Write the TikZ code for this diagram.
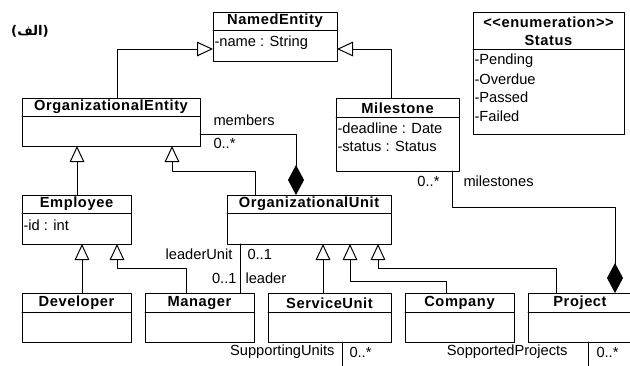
\documentclass[tikz,border=0pt]{standalone}
\usepackage{fontspec}
\setmainfont{Liberation Sans}
\newfontface\clsbold{Liberation Sans Bold}[LetterSpace=4]
\newfontfamily\arabicfont[Script=Arabic]{DejaVu Sans}
\TeXXeTstate=1
\usetikzlibrary{arrows.meta}

\tikzset{
  cls/.style={draw, anchor=north west, inner sep=0pt, outer sep=0pt},
  boxsize/.style 2 args={minimum width=#1*0.75pt, minimum height=#2*0.75pt},
  ttl/.style={font=\clsbold\fontsize{11}{13}\selectfont, inner sep=0pt},
  att/.style={anchor=west, inner sep=0pt, xshift=0.75pt},
  txt/.style={inner sep=0pt},
  gen/.style={-{Triangle[open,length=12pt,width=11pt]}},
  comp/.style={-{Diamond[length=22.5pt,width=12pt]}}
}

\begin{document}
\begin{tikzpicture}[line cap=round,line join=round,x=0.75pt,y=-0.75pt,line width=0.75pt,font=\fontsize{11}{13}\selectfont]
\useasboundingbox (0,0) rectangle (630,365);
\clip (0,0) rectangle (630,365);
\fill[white] (0,0) rectangle (630,365);
\node[txt] (alef) at (30,31) {\arabicfont\fontsize{10}{12}\selectfont\bfseries\beginR(الف)\endR};
% top row
\node[cls, boxsize={124}{49}] (ne) at (213,12) {};
\draw (ne.west |- 0,30) -- (ne.east |- 0,30);
\node[ttl] (ne-t) at (ne.north |- 0,21) {NamedEntity};
\node[att] at (ne.west |- 0,43) {-name : String};
\node[cls, boxsize={151}{122}] (st) at (473,12) {};
\draw (st.west |- 0,49) -- (st.east |- 0,49);
\node[ttl] (st-s) at (st.north |- 0,22) {<{}<enumeration>{}>};
\node[ttl] (st-t) at (st.north |- 0,40) {Status};
\node[att] at (st.west |- 0,61) {-Pending};
\node[att] at (st.west |- 0,79) {-Overdue};
\node[att] at (st.west |- 0,97) {-Passed};
\node[att] at (st.west |- 0,116) {-Failed};
% second row
\node[cls, boxsize={178}{48}] (oe) at (22,98) {};
\draw (oe.west |- 0,116) -- (oe.east |- 0,116);
\node[ttl] (oe-t) at (oe.north |- 0,107) {OrganizationalEntity};
\node[cls, boxsize={123}{73}] (ms) at (336,98) {};
\draw (ms.west |- 0,117) -- (ms.east |- 0,117);
\node[ttl] (ms-t) at (ms.north |- 0,108) {Milestone};
\node[att] at (ms.west |- 0,128) {-deadline : Date};
\node[att] at (ms.west |- 0,146) {-status : Status};
% third row
\node[cls, boxsize={109}{49}] (em) at (22,195) {};
\draw (em.west |- 0,213) -- (em.east |- 0,213);
\node[ttl] (em-t) at (em.north |- 0,204) {Employee};
\node[att] at (em.west |- 0,225) {-id : int};
\node[cls, boxsize={164}{49}] (ou) at (227,195) {};
\draw (ou.west |- 0,213) -- (ou.east |- 0,213);
\node[ttl] (ou-t) at (ou.north |- 0,204) {OrganizationalUnit};
% bottom row
\node[cls, boxsize={109}{49}] (dv) at (22,293) {};
\draw (dv.west |- 0,312) -- (dv.east |- 0,312);
\node[ttl] (dv-t) at (dv.north |- 0,303) {Developer};
\node[cls, boxsize={109}{49}] (mg) at (145,293) {};
\draw (mg.west |- 0,312) -- (mg.east |- 0,312);
\node[ttl] (mg-t) at (mg.north |- 0,303) {Manager};
\node[cls, boxsize={123}{49}] (su) at (268,293) {};
\draw (su.west |- 0,312) -- (su.east |- 0,312);
\node[ttl] (su-t) at (su.north |- 0,303) {ServiceUnit};
\node[cls, boxsize={109}{49}] (co) at (405,293) {};
\draw (co.west |- 0,312) -- (co.east |- 0,312);
\node[ttl] (co-t) at (co.north |- 0,303) {Company};
\node[cls, boxsize={104}{49}] (pj) at (528,293) {};
\draw (pj.west |- 0,312) -- (pj.east |- 0,312);
\node[ttl] (pj-t) at (580,303) {Project};
% generalizations
\draw[gen] (oe.north -| 117,0) |- (ne.west |- 0,49);
\draw[gen] (ms.north -| 391,0) |- (ne.east |- 0,49);
\draw[gen] (em.north -| 77,0) -- (oe.south -| 77,0);
\draw[gen] (ou.north -| 255,0) -- ++(0,-24) -| (oe.south -| 172,0);
\draw[gen] (dv.north -| 82,0) -- (em.south -| 82,0);
\draw[gen] (mg.north -| 186,0) -- ++(0,-25) -| (em.south -| 117,0);
\draw[gen] (su.north -| 323,0) -- (ou.south -| 323,0);
\draw[gen] (co.north -| 446,0) -- ++(0,-12) -| (ou.south -| 350,0);
\draw[gen] (pj.north -| 556,0) -- ++(0,-25) -| (ou.south -| 378,0);
% associations
\draw[comp] (oe.east |- 0,134) -| (ou.north -| 296,0);
\node[txt, anchor=west] (members) at (213,120) {members};
\node[txt, anchor=west] (members-m) at (213,143) {0..*};
\draw[comp] (ms.south -| 452,0) -- ++(0,36) -| (pj.north -| 615,0);
\node[txt, anchor=east] (milestones-m) at (440,181) {0..*};
\node[txt, anchor=west] (milestones) at (463,181) {milestones};
\draw (ou.south -| 240,0) -- (mg.north -| 240,0);
\node[txt, anchor=east] (leaderunit) at (233,254) {leaderUnit};
\node[txt, anchor=west] (leaderunit-m) at (247,254) {0..1};
\node[txt, anchor=east] (leader-m) at (237,278) {0..1};
\node[txt, anchor=west] (leader) at (245,278) {leader};
\coordinate (su-end) at (342,370);
\coordinate (pj-end) at (588,370);
\draw (su.south -| su-end) -- (su-end);
\draw (pj.south -| pj-end) -- (pj-end);
\node[txt, anchor=east] (supporting) at (335,352) {SupportingUnits};
\node[txt, anchor=west] (supporting-m) at (349,352) {0..*};
\node[txt, anchor=east] (supported) at (568,352) {SopportedProjects};
\node[txt, anchor=west] (supported-m) at (596,352) {0..*};
\end{tikzpicture}
\end{document}
